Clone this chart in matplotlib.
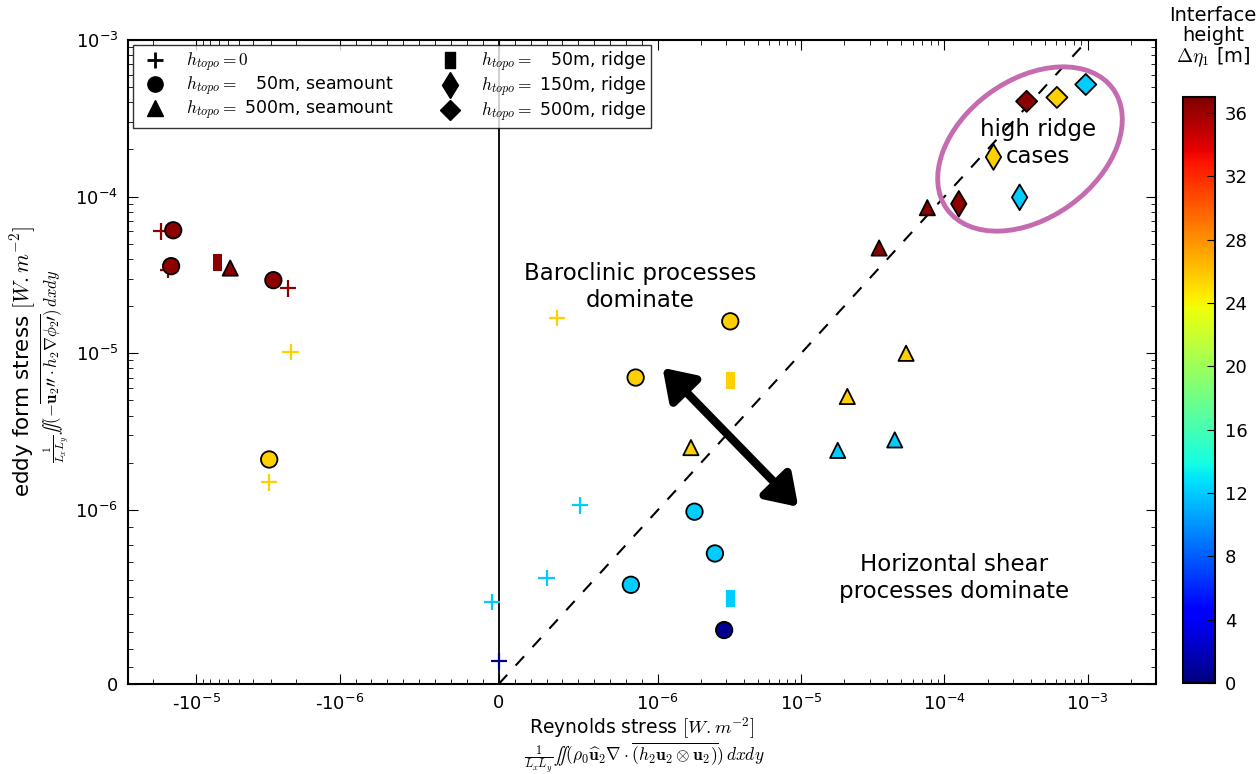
import numpy as np
import matplotlib
matplotlib.use('Agg')
import matplotlib.pyplot as plt
from matplotlib.lines import Line2D
from matplotlib.patches import Ellipse
from matplotlib.transforms import IdentityTransform

# Data: x = Reynolds stress, y = eddy form stress, eta = interface height
plus_x = [-1.76e-5, -1.57e-5, -2.3e-6, -2.2e-6, -3.1e-6, 3.65e-7, -4.4e-8, 3.0e-7, 5.1e-7, 0.0]
plus_y = [6.0e-5, 3.4e-5, 2.6e-5, 1.02e-5, 1.5e-6, 1.68e-5, 4.7e-7, 6.1e-7, 1.07e-6, 1.3e-7]
plus_eta = [36.5, 36.5, 36.5, 25.5, 25.5, 25.5, 12, 12, 12, 0.5]

circ_x = [-1.45e-5, -1.5e-5, -2.9e-6, -3.1e-6, 3.2e-6, 8.6e-7, 8.3e-7, 1.8e-6, 2.5e-6, 2.9e-6]
circ_y = [6.1e-5, 3.6e-5, 2.93e-5, 2.1e-6, 1.6e-5, 7.0e-6, 5.7e-7, 9.9e-7, 7.5e-7, 3.1e-7]
circ_eta = [36.5, 36.5, 36.5, 25.5, 25.5, 25.5, 12, 12, 12, 0.5]

tri_x = [-5.8e-6, 3.5e-5, 7.6e-5, 1.7e-6, 2.1e-5, 5.4e-5, 1.8e-5, 4.5e-5]
tri_y = [3.5e-5, 4.7e-5, 8.5e-5, 2.5e-6, 5.3e-6, 1.0e-5, 2.4e-6, 2.8e-6]
tri_eta = [36.5, 36.5, 36.5, 25.5, 25.5, 25.5, 12, 12]

rect_x = [-7.1e-6, 3.2e-6, 3.2e-6]
rect_y = [3.8e-5, 6.7e-6, 4.9e-7]
rect_eta = [36.5, 25.5, 12]

thin_x = [1.26e-4, 2.2e-4, 3.35e-4]
thin_y = [9.0e-5, 1.79e-4, 9.9e-5]
thin_eta = [36.5, 25.5, 12]

diam_x = [3.75e-4, 6.1e-4, 9.7e-4]
diam_y = [4.06e-4, 4.3e-4, 5.2e-4]
diam_eta = [36.5, 25.5, 12]

legend_labels = [r'$h_{topo}=0$', r'$h_{topo}=$   50m, seamount', r'$h_{topo}=$ 500m, seamount',
                 r'$h_{topo}=$   50m, ridge', r'$h_{topo}=$ 150m, ridge', r'$h_{topo}=$ 500m, ridge']

cbar_ticks = np.arange(0, 37, 4)

rect_marker = [(-0.28, -0.5), (0.28, -0.5), (0.28, 0.5), (-0.28, 0.5), (-0.28, -0.5)]

plt.rcParams['xtick.direction'] = 'in'
plt.rcParams['ytick.direction'] = 'in'
plt.rcParams['xtick.top'] = True
plt.rcParams['ytick.right'] = True
plt.rcParams['xtick.major.size'] = 7
plt.rcParams['ytick.major.size'] = 7
plt.rcParams['xtick.minor.size'] = 3.5
plt.rcParams['ytick.minor.size'] = 3.5
plt.rcParams['xtick.major.pad'] = 7
plt.rcParams['ytick.major.pad'] = 7
plt.rcParams['mathtext.fontset'] = 'cm'

fig = plt.figure(figsize=(12.6, 7.74), dpi=100)
ax = fig.add_axes([128/1260, 1-684/774, 1028/1260, 644/774])

kw = dict(cmap='jet', vmin=0, vmax=37)
ax.scatter(plus_x, plus_y, c=plus_eta, marker='+', s=140, linewidths=1.6, zorder=3, **kw)
sc = ax.scatter(circ_x, circ_y, c=circ_eta, marker='o', s=140, edgecolors='k', linewidths=1.3, zorder=4, **kw)
ax.scatter(tri_x, tri_y, c=tri_eta, marker='^', s=120, edgecolors='k', linewidths=1.3, zorder=4, **kw)
ax.scatter(rect_x, rect_y, c=rect_eta, marker=rect_marker, s=150, edgecolors='none', zorder=4, **kw)
ax.scatter(thin_x, thin_y, c=thin_eta, marker='d', s=170, edgecolors='k', linewidths=1.3, zorder=4, **kw)
ax.scatter(diam_x, diam_y, c=diam_eta, marker='D', s=115, edgecolors='k', linewidths=1.3, zorder=4, **kw)

# reference lines
ax.axvline(0, color='k', lw=1.3, zorder=2)
xx = np.concatenate([[0], np.logspace(-8, -2.5, 300)])
ax.plot(xx, xx, 'k--', lw=1.5, dashes=(6, 6), zorder=2)

ax.set_xscale('symlog', linthresh=1e-6, linscale=1)
ax.set_yscale('symlog', linthresh=1e-6, linscale=1)
ax.set_xlim(-3e-5, 3e-3)
ax.set_ylim(0, 1e-3)

xt = [-1e-5, -1e-6, 0, 1e-6, 1e-5, 1e-4, 1e-3]
xl = [r'-$\mathdefault{10^{-5}}$', r'-$\mathdefault{10^{-6}}$', '0', r'$\mathdefault{10^{-6}}$',
      r'$\mathdefault{10^{-5}}$', r'$\mathdefault{10^{-4}}$', r'$\mathdefault{10^{-3}}$']
ax.set_xticks(xt)
ax.set_xticklabels(xl, fontsize=13)
yt = [0, 1e-6, 1e-5, 1e-4, 1e-3]
yl = ['0', r'$\mathdefault{10^{-6}}$', r'$\mathdefault{10^{-5}}$', r'$\mathdefault{10^{-4}}$', r'$\mathdefault{10^{-3}}$']
ax.set_yticks(yt)
ax.set_yticklabels(yl, fontsize=13)

lin_minor = list(np.arange(1, 10) * 1e-7)
log_minor = [m * 10.0**k for k in range(-6, -2) for m in range(2, 10)]
xminor = [-v for v in lin_minor + log_minor if v < 3e-5] + lin_minor + [v for v in log_minor if v < 3e-3]
ax.set_xticks(xminor, minor=True)
ax.set_yticks(lin_minor + [v for v in log_minor if v < 1e-3], minor=True)
for s in ax.spines.values():
    s.set_linewidth(1.5)

ax.set_xlabel(r'Reynolds stress $[W.m^{-2}]$', fontsize=13.5, labelpad=1)
ax.set_ylabel(r'eddy form stress $[W.m^{-2}]$', fontsize=15.5, labelpad=27)
fig.text(644/1260, 1-758/774,
         r'$\frac{1}{L_xL_y}\iint(\rho_0\widehat{\mathbf{u}}_2\nabla\cdot\overline{(h_2\mathbf{u}_2\otimes\mathbf{u}_2)})\,dxdy$',
         ha='center', va='center', fontsize=12.5)
fig.text(55/1260, 1-366/774,
         r'$\frac{1}{L_xL_y}\iint(-\overline{\mathbf{u}_2\prime\prime\cdot h_2\nabla\phi_2\prime})\,dxdy$',
         ha='center', va='center', rotation=90, fontsize=12)

# annotations
ax.text(0.498, 0.616, 'Baroclinic processes\ndominate', transform=ax.transAxes,
        ha='center', va='center', fontsize=16.5)
ax.text(0.804, 0.165, 'Horizontal shear\nprocesses dominate', transform=ax.transAxes,
        ha='center', va='center', fontsize=16.5)
ax.text(0.885, 0.840, 'high ridge\ncases', transform=ax.transAxes,
        ha='center', va='center', fontsize=16.5)
ax.annotate('', xy=(0.520, 0.491), xytext=(0.652, 0.275), xycoords='axes fraction',
            arrowprops=dict(arrowstyle='<|-|>,head_length=0.9,head_width=0.6', lw=6,
                            color='k', mutation_scale=20, shrinkA=0, shrinkB=0))
ell = Ellipse((1030, 774-149), 205, 138, angle=36, transform=IdentityTransform(),
              fill=False, edgecolor='#c56cb0', lw=3.5, zorder=5)
fig.add_artist(ell)

# legend
handles = [Line2D([], [], ls='', marker='+', color='k', ms=11, mew=2),
           Line2D([], [], ls='', marker='o', color='k', ms=11),
           Line2D([], [], ls='', marker='^', color='k', ms=11),
           Line2D([], [], ls='', marker=rect_marker, color='k', ms=12),
           Line2D([], [], ls='', marker='d', color='k', ms=13),
           Line2D([], [], ls='', marker='D', color='k', ms=10)]
leg = ax.legend(handles, legend_labels, loc='upper left', ncol=2, fontsize=12.5,
                frameon=True, fancybox=False, borderaxespad=0.3, handletextpad=0.8,
                columnspacing=2.2, labelspacing=0.05, borderpad=0.25, numpoints=1)
leg.get_frame().set_edgecolor('k')

# colorbar
cax = fig.add_axes([1183/1260, 1-683/774, 32/1260, 586/774])
cb = fig.colorbar(sc, cax=cax, ticks=cbar_ticks)
cb.ax.tick_params(labelsize=13, direction='in', length=6)
cb.outline.set_linewidth(1.5)
fig.text(1213/1260, 1-6/774, 'Interface\nheight\n' + r'$\Delta\eta_1$ [m]', ha='center', va='top',
         fontsize=14, linespacing=1.05)

fig.savefig('out.png', dpi=100)
